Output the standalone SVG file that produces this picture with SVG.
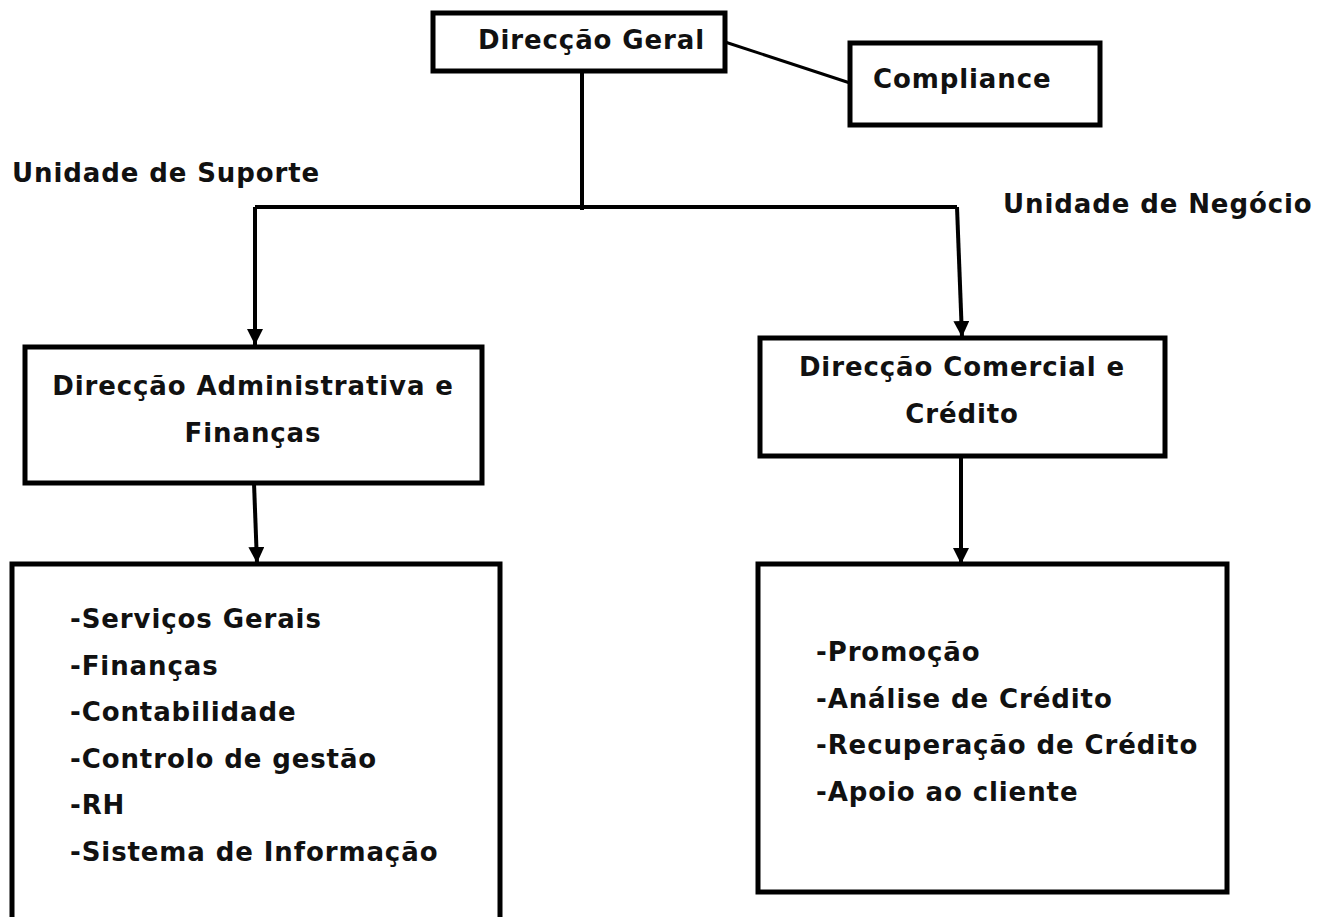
<svg xmlns="http://www.w3.org/2000/svg" width="1326" height="917" viewBox="0 0 1326 917">
<style>
.box{fill:#fff;stroke:#000;stroke-width:5}
.t{font-family:"DejaVu Sans","Verdana",sans-serif;font-weight:bold;font-size:26px;letter-spacing:0.9px;fill:#111}
.c{text-anchor:middle}
.ln{fill:none;stroke:#000;stroke-width:4}
</style>
<defs>
<marker id="ah" viewBox="0 0 10 10" refX="10" refY="5" markerWidth="4" markerHeight="4" markerUnits="strokeWidth" orient="auto">
<path d="M0,0 L10,5 L0,10 z" fill="#000"/>
</marker>
</defs>
<rect width="1326" height="917" fill="#fff"/>
<g id="connectors">
<line class="ln" x1="725" y1="42" x2="850" y2="83" style="stroke-width:3"/>
<line class="ln" x1="582" y1="72" x2="582" y2="210"/>
<path class="ln" d="M957,207 L255,207"/>
<path class="ln" d="M255,207 L255,345" marker-end="url(#ah)"/>
<path class="ln" d="M957,207 L962,337" marker-end="url(#ah)"/>
<path class="ln" d="M254,483 L257,563" marker-end="url(#ah)"/>
<path class="ln" d="M961,456 L961,564" marker-end="url(#ah)"/>
</g>
<g id="direccao-geral">
<rect class="box" x="433" y="13" width="292" height="58"/>
<text class="t" x="478" y="49">Direcção Geral</text>
</g>
<g id="compliance">
<rect class="box" x="850" y="43" width="250" height="82"/>
<text class="t" x="873" y="88">Compliance</text>
</g>
<g id="unidade-suporte">
<text class="t" x="12" y="182">Unidade de Suporte</text>
</g>
<g id="unidade-negocio">
<text class="t" x="1003" y="213">Unidade de Negócio</text>
</g>
<g id="daf">
<rect class="box" x="25" y="347" width="457" height="136"/>
<text class="t c" x="253" y="395">Direcção Administrativa e</text>
<text class="t c" x="253" y="442">Finanças</text>
</g>
<g id="dcc">
<rect class="box" x="760" y="338" width="405" height="118"/>
<text class="t c" x="962" y="376">Direcção Comercial e</text>
<text class="t c" x="962" y="423">Crédito</text>
</g>
<g id="daf-list">
<rect class="box" x="12" y="564" width="488" height="370"/>
<text class="t" x="70" y="628">-Serviços Gerais</text>
<text class="t" x="70" y="675">-Finanças</text>
<text class="t" x="70" y="721">-Contabilidade</text>
<text class="t" x="70" y="768">-Controlo de gestão</text>
<text class="t" x="70" y="814">-RH</text>
<text class="t" x="70" y="861">-Sistema de Informação</text>
</g>
<g id="dcc-list">
<rect class="box" x="758" y="564" width="469" height="328"/>
<text class="t" x="816" y="661">-Promoção</text>
<text class="t" x="816" y="708">-Análise de Crédito</text>
<text class="t" x="816" y="754">-Recuperação de Crédito</text>
<text class="t" x="816" y="801">-Apoio ao cliente</text>
</g>
</svg>
